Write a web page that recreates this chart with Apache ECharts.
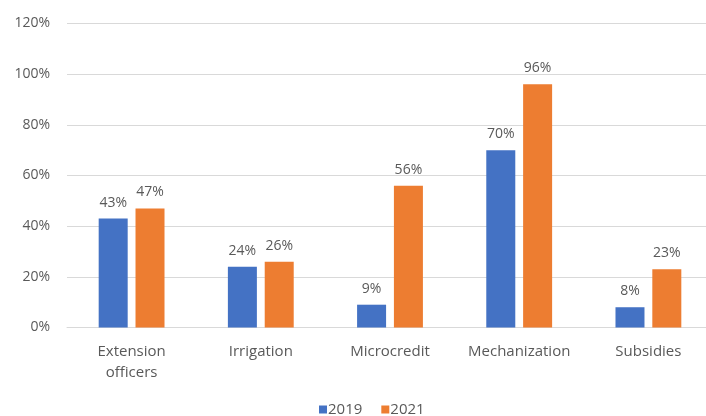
<!DOCTYPE html>
<html>
<head>
<meta charset="utf-8">
<script src="https://cdn.jsdelivr.net/npm/echarts@6/dist/echarts.min.js"></script>
<style>
  html, body { margin: 0; padding: 0; background: #fff; }
  #chart { width: 706px; height: 416px; }
</style>
</head>
<body>
<div id="chart"></div>
<script>
// Adoption share by intervention type, 2019 vs 2021
const categories = ['Extension\nofficers', 'Irrigation', 'Microcredit', 'Mechanization', 'Subsidies'];
const values2019 = [43, 24, 9, 70, 8];
const values2021 = [47, 26, 56, 96, 23];
const yTicks = [0, 20, 40, 60, 80, 100, 120];

const textColor = '#595959';
const fontFamily = 'Open Sans, Liberation Sans, sans-serif';

const chart = echarts.init(document.getElementById('chart'), null, { renderer: 'canvas' });

const labelStyle = {
  show: true,
  position: 'top',
  distance: 9,
  color: textColor,
  fontSize: 14,
  fontFamily: fontFamily,
  formatter: p => p.value + '%'
};

chart.setOption({
  animation: false,
  backgroundColor: '#fff',
  // plot area runs slightly past the right edge of the canvas
  grid: { left: 67, width: 646, top: 23.5, height: 304, containLabel: false, outerBoundsMode: 'none' },
  legend: {
    top: 397,
    left: 314,
    itemWidth: 8,
    itemHeight: 8,
    itemGap: 19,
    icon: 'rect',
    textStyle: { color: textColor, fontSize: 15, fontFamily: fontFamily, padding: [0, 0, 0, -4] },
    data: ['2019', '2021']
  },
  xAxis: {
    type: 'category',
    data: categories,
    axisLine: { show: true, lineStyle: { color: '#d9d9d9', width: 1 } },
    axisTick: { show: false },
    axisLabel: { color: textColor, fontSize: 15, fontFamily: fontFamily, margin: 14, lineHeight: 21, interval: 0 }
  },
  yAxis: {
    type: 'value',
    min: yTicks[0],
    max: yTicks[yTicks.length - 1],
    interval: yTicks[1] - yTicks[0],
    axisLine: { show: false },
    axisTick: { show: false },
    splitLine: { lineStyle: { color: '#d9d9d9', width: 1 } },
    axisLabel: { color: textColor, fontSize: 14, fontFamily: fontFamily, margin: 17, formatter: v => v + '%' }
  },
  series: [
    {
      name: '2019',
      type: 'bar',
      data: values2019,
      barWidth: 29,
      barGap: '27%',
      itemStyle: { color: '#4472C4' },
      label: labelStyle
    },
    {
      name: '2021',
      type: 'bar',
      data: values2021,
      barWidth: 29,
      itemStyle: { color: '#ED7D31' },
      label: labelStyle
    }
  ]
});
</script>
</body>
</html>
